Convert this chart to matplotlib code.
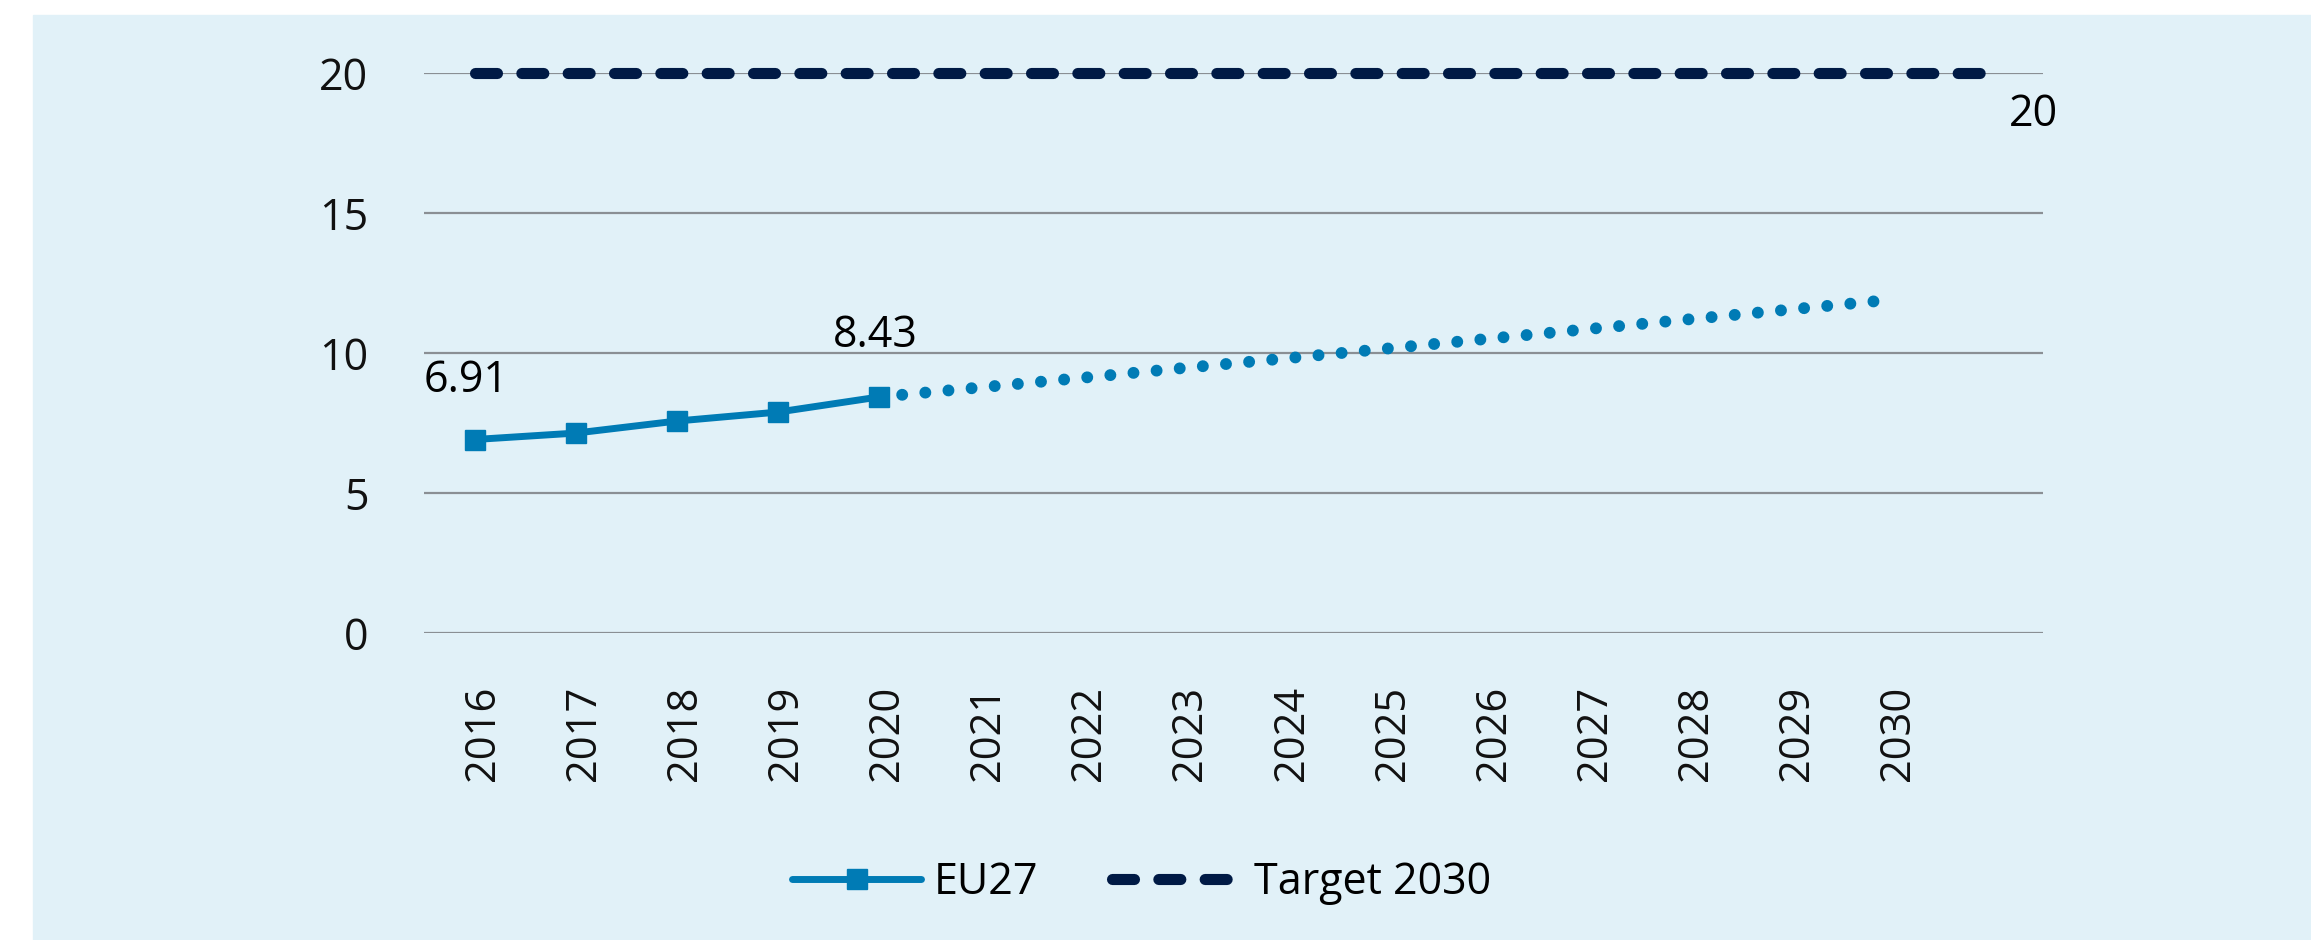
import matplotlib.pyplot as plt
from matplotlib.lines import Line2D
from matplotlib.patches import Rectangle
from matplotlib.transforms import ScaledTranslation

# data
years = [2016, 2017, 2018, 2019, 2020, 2021, 2022, 2023, 2024, 2025,
         2026, 2027, 2028, 2029, 2030]
eu27_years = [2016, 2017, 2018, 2019, 2020]
eu27 = [6.91, 7.14, 7.57, 7.89, 8.43]
proj_years = [2020, 2021, 2022, 2023, 2024, 2025, 2026, 2027, 2028, 2029, 2030]
proj = [8.43, 8.77, 9.11, 9.46, 9.8, 10.15, 10.5, 10.85, 11.2, 11.55, 11.9]
target_years = [2016, 2017, 2018, 2019, 2020, 2021, 2022, 2023, 2024, 2025,
                2026, 2027, 2028, 2029, 2030, 2031]
target = [20] * 16
yticks = [0, 5, 10, 15, 20]

blue = '#007bb5'
navy = '#001a45'
bg = '#e1f1f8'
grid = '#8a8f94'

plt.rcParams['font.family'] = ['Open Sans', 'DejaVu Sans']
plt.rcParams['font.size'] = 31

W, H = 2311, 940
fig = plt.figure(figsize=(W / 100, H / 100), dpi=100, facecolor='white')
fig.patches.append(Rectangle((33 / W, 0), 1, 925 / H,
                             transform=fig.transFigure, color=bg, zorder=-10))

ax = fig.add_axes([424 / W, (940 - 633) / H, 1619 / W, 560 / H])
ax.set_facecolor('none')
ax.set_xlim(2015.5, 2031.51)
ax.set_ylim(0, 20)
for s in ax.spines.values():
    s.set_visible(False)
ax.set_yticks(yticks)
ax.yaxis.grid(True, color=grid, lw=1.6)
ax.set_axisbelow(True)
ax.set_xticks(years)
ax.set_xticklabels([str(y) for y in years], rotation=90, fontsize=30)
ax.tick_params(axis='x', length=0, pad=38, colors='#111111')
ax.tick_params(axis='y', length=0, pad=40, colors='#111111')
shift = ScaledTranslation(8 / 100, 0, fig.dpi_scale_trans)
for lab in ax.get_xticklabels():
    lab.set_transform(lab.get_transform() + shift)

# target line
ax.plot(target_years, target, color=navy, lw=8, dashes=(1.98, 2.19),
        dash_capstyle='round', solid_capstyle='round', clip_on=False, zorder=3)
# projection (dotted)
ax.plot(proj_years, proj, color=blue, lw=8.6, dashes=(0.001, 1.944),
        dash_capstyle='round', clip_on=False, zorder=3)
# EU27 actual
ax.plot(eu27_years, eu27, color=blue, lw=5, marker='s', markersize=15,
        solid_capstyle='round', clip_on=False, zorder=4)

ax.annotate('6.91', (eu27_years[0], eu27[0]), xytext=(-6, 42),
            textcoords='offset points', ha='center', va='center')
ax.annotate('8.43', (eu27_years[-1], eu27[-1]), xytext=(-3, 44),
            textcoords='offset points', ha='center', va='center')
ax.annotate('20', (target_years[-1], target[-1]), xytext=(30, -30),
            textcoords='offset points', ha='center', va='center')

handles = [
    Line2D([], [], color=blue, lw=5, marker='s', markersize=15,
           solid_capstyle='round'),
    Line2D([], [], color=navy, lw=8, dashes=(1.98, 2.19),
           dash_capstyle='round'),
]
fig.legend(handles, ['EU27', 'Target 2030'], loc='center',
           bbox_to_anchor=(0.494, 57 / H), ncol=2, frameon=False,
           handlelength=3.0, handletextpad=0.3, columnspacing=1.7)

fig.savefig('out.png', dpi=100, facecolor='white')
